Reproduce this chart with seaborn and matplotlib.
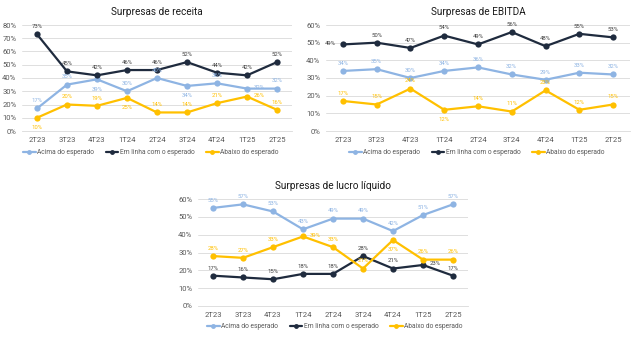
import matplotlib
matplotlib.use("Agg")
import matplotlib.pyplot as plt
import seaborn as sns
import pandas as pd
from matplotlib.ticker import FuncFormatter
from matplotlib.lines import Line2D

sns.set_theme(style="white")
plt.rcParams['font.family'] = ['Roboto', 'DejaVu Sans']

quarters = ["2T23", "3T23", "4T23", "1T24", "2T24", "3T24", "4T24", "1T25", "2T25"]
series_names = ["Acima do esperado", "Em linha com o esperado", "Abaixo do esperado"]

receita_acima = [17, 35, 39, 30, 40, 34, 36, 32, 32]
receita_linha = [73, 45, 42, 46, 46, 52, 44, 42, 52]
receita_abaixo = [10, 20, 19, 25, 14, 14, 21, 26, 16]

ebitda_acima = [34, 35, 30, 34, 36, 32, 29, 33, 32]
ebitda_linha = [49, 50, 47, 54, 49, 56, 48, 55, 53]
ebitda_abaixo = [17, 15, 24, 12, 14, 11, 23, 12, 15]

lucro_acima = [55, 57, 53, 43, 49, 49, 42, 51, 57]
lucro_linha = [17, 16, 15, 18, 18, 28, 21, 23, 17]
lucro_abaixo = [28, 27, 33, 39, 33, 21, 37, 26, 26]

colors = {"Acima do esperado": "#8EB4E3",
          "Em linha com o esperado": "#1F2B3E",
          "Abaixo do esperado": "#FFC000"}
label_colors = {"Acima do esperado": "#8EB4E3",
                "Em linha com o esperado": "#404040",
                "Abaixo do esperado": "#FFC000"}

# label placement (style): a=above, b=below, r=right, l=left
pos_receita = {"Acima do esperado": "aabaabara",
               "Em linha com o esperado": "aaaaaaaaa",
               "Abaixo do esperado": "baabaaara"}
pos_ebitda = {"Acima do esperado": "aaaaaaaaa",
              "Em linha com o esperado": "laaaaaaaa",
              "Abaixo do esperado": "aaabaaaaa"}
pos_lucro = {"Acima do esperado": "aaaaaaaaa",
             "Em linha com o esperado": "aaaaaaara",
             "Abaixo do esperado": "aaaraabaa"}

W, H = 638, 338
fig = plt.figure(figsize=(W / 100, H / 100), dpi=100)


def make_ax(left, right, top, bottom):
    return fig.add_axes([left / W, 1 - bottom / H, (right - left) / W, (bottom - top) / H])


def draw(ax, title, acima, linha, abaixo, ymax, positions, legend_xy):
    df = pd.DataFrame({
        "x": list(range(len(quarters))) * 3,
        "v": acima + linha + abaixo,
        "s": [series_names[0]] * 9 + [series_names[1]] * 9 + [series_names[2]] * 9,
    })
    sns.lineplot(data=df, x="x", y="v", hue="s", palette=colors, marker="o",
                 markersize=4.5, markeredgewidth=0, linewidth=1.6, ax=ax, legend=False,
                 zorder=3)
    ax.set_xlim(-0.5, 8.5)
    ax.set_ylim(0, ymax)
    ax.set_yticks(range(0, ymax + 1, 10))
    ax.yaxis.set_major_formatter(FuncFormatter(lambda v, p: f"{int(v)}%"))
    ax.set_xticks(range(9))
    ax.set_xticklabels(quarters)
    ax.tick_params(axis="both", labelsize=5.5, colors="#595959", length=0, pad=4)
    ax.tick_params(axis="x", pad=4)
    ax.grid(axis="y", color="#d9d9d9", linewidth=0.6)
    ax.set_axisbelow(True)
    for sp in ["top", "right", "left"]:
        ax.spines[sp].set_visible(False)
    ax.spines["bottom"].set_color("#d9d9d9")
    ax.spines["bottom"].set_linewidth(0.6)
    ax.set_xlabel("")
    ax.set_ylabel("")
    ax.set_title(title, fontsize=7.2, color="#1a1a1a", pad=7.5)
    for name, vals in zip(series_names, [acima, linha, abaixo]):
        for i, v in enumerate(vals):
            p = positions[name][i]
            off = {"a": (0, 5.5), "b": (0, -7), "r": (9, 1), "l": (-9, 1)}[p]
            ax.annotate(f"{v}%", (i, v), xytext=off, textcoords="offset points",
                        ha="center", va="center", fontsize=4.3, color=label_colors[name],
                        zorder=5)
    handles = [Line2D([0], [0], color=colors[n], marker="o", markersize=3.5,
                      markeredgewidth=0, linewidth=1.6) for n in series_names]
    ax.legend(handles, series_names, loc="center", bbox_to_anchor=legend_xy,
              bbox_transform=fig.transFigure, ncol=3, frameon=False, fontsize=4.8,
              handlelength=1.9, handletextpad=0.25, columnspacing=1.7, labelcolor="#595959",
              borderpad=0)


ax1 = make_ax(22, 292, 25, 131)
draw(ax1, "Surpresas de receita", receita_acima, receita_linha, receita_abaixo, 80,
     pos_receita, (151 / W, 1 - 153 / H))

ax2 = make_ax(326, 630, 25, 131)
draw(ax2, "Surpresas de EBITDA", ebitda_acima, ebitda_linha, ebitda_abaixo, 60,
     pos_ebitda, (477 / W, 1 - 153 / H))

ax3 = make_ax(198, 468, 199, 306)
draw(ax3, "Surpresas de lucro líquido", lucro_acima, lucro_linha, lucro_abaixo, 60,
     pos_lucro, (335 / W, 1 - 327 / H))

fig.savefig("out.png", dpi=100, facecolor="white")
